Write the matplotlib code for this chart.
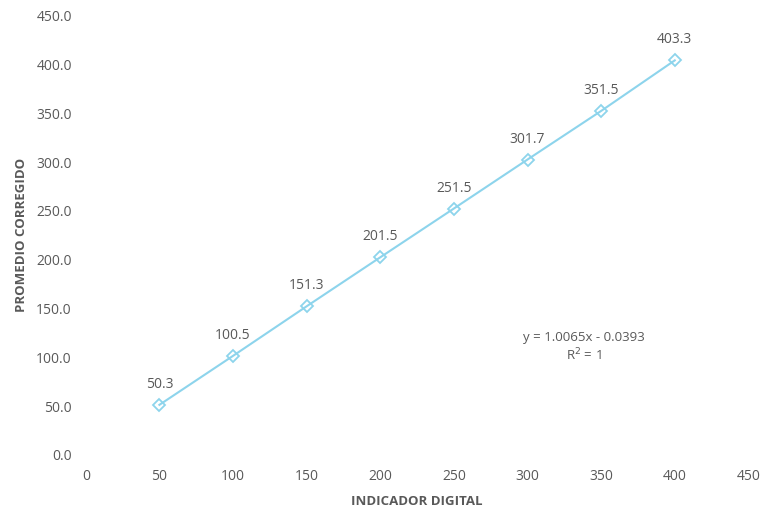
import matplotlib.pyplot as plt

indicador = [50, 100, 150, 200, 250, 300, 350, 400]
promedio = [50.3, 100.5, 151.3, 201.5, 251.5, 301.7, 351.5, 403.3]
etiquetas = ['50.3', '100.5', '151.3', '201.5', '251.5', '301.7', '351.5', '403.3']
ecuacion = 'y = 1.0065x - 0.0393'
r2 = 'R$^2$ = 1'

plt.rcParams['font.family'] = ['Open Sans', 'DejaVu Sans']
gris = '#595959'
azul = '#8dd4ec'

fig = plt.figure(figsize=(7.66, 5.10), dpi=100)
ax = fig.add_axes([0.112, 0.108, 0.865, 0.861])

ax.plot(indicador, promedio, color=azul, lw=1.5, marker='D', ms=6,
        mfc='none', mec=azul, mew=1.3)
for x, y, t in zip(indicador, promedio, etiquetas):
    ax.annotate(t, (x, y), xytext=(0, 10), textcoords='offset points',
                ha='center', va='bottom', fontsize=10, color=gris)

ax.text(338, 120, ecuacion, ha='center', va='center', fontsize=9.5, color=gris)
ax.text(338, 102, r2, ha='center', va='center', fontsize=9.5, color=gris)

ax.set_xlim(0, 450)
ax.set_ylim(0, 450)
ax.set_xticks(range(0, 451, 50))
ax.set_yticks(range(0, 451, 50))
ax.set_yticklabels([f'{v:.1f}' for v in range(0, 451, 50)])
ax.tick_params(length=0, labelsize=10, labelcolor=gris, pad=10)
for s in ax.spines.values():
    s.set_visible(False)

ax.set_xlabel('INDICADOR DIGITAL', fontsize=9.5, fontweight='bold', color=gris, labelpad=8)
ax.set_ylabel('PROMEDIO CORREGIDO', fontsize=9.5, fontweight='bold', color=gris, labelpad=6)

fig.savefig('out.png', dpi=100)
